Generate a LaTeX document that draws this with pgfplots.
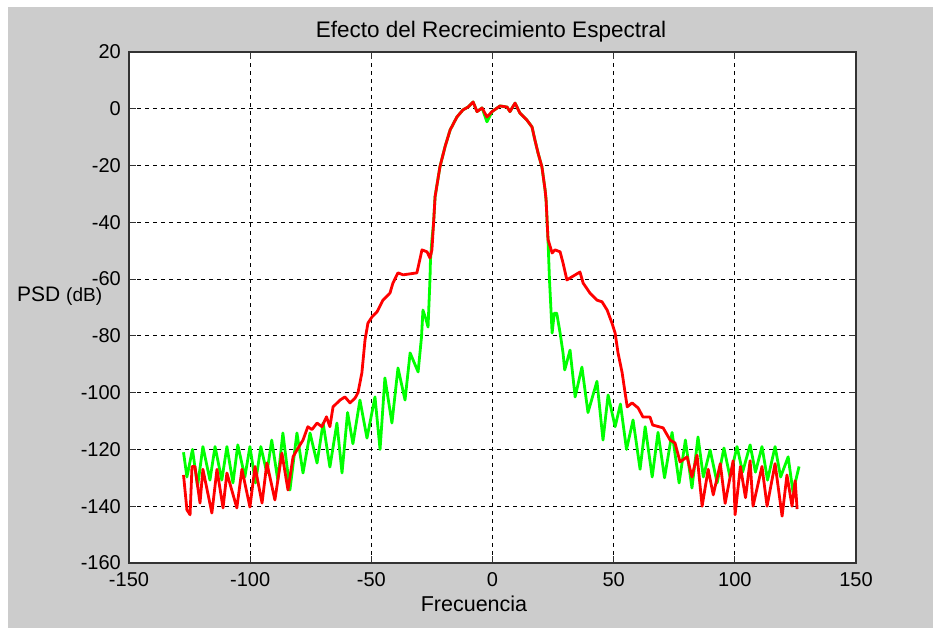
\documentclass[border=0pt]{standalone}
\usepackage{fontspec}
\setmainfont{Liberation Sans}
\usepackage{pgfplots}
\pgfplotsset{compat=1.18}
\definecolor{figgray}{RGB}{204,204,204}
\definecolor{mred}{RGB}{255,0,0}
\definecolor{mgreen}{RGB}{0,255,0}
\begin{document}
\begin{tikzpicture}
\path[use as bounding box] (0,0) rectangle (933pt,628pt);
\fill[white] (0,0) rectangle (933pt,628pt);
\fill[figgray] (8pt,0) rectangle (933pt,621pt);
\begin{axis}[
  at={(129pt,65pt)}, anchor=south west,
  scale only axis, width=727pt, height=511pt,
  xmin=-150, xmax=150, ymin=-160, ymax=20,
  xtick={-150,-100,-50,0,50,100,150},
  ytick={-160,-140,-120,-100,-80,-60,-40,-20,0,20},
  axis background/.style={fill=white},
  axis line style={black!80, line width=1.4pt},
  tick align=inside, major tick length=7pt,
  tick style={black!80, line width=1pt},
  grid=major,
  major grid style={black, line width=1.2pt, dash pattern=on 4pt off 4pt},
  /pgf/number format/assume math mode=true,
  ticklabel style={font=\fontsize{20}{24}\selectfont, inner sep=0pt},
  yticklabel style={xshift=-8pt},
  xticklabel style={yshift=-9pt},
]
\addplot[mgreen, line width=2.8pt, line join=round] table {
-127.5 -121
-126.1 -129.7
-123.8 -120
-121.7 -133
-119.5 -119
-116.6 -130.8
-114.5 -119
-111.7 -130.8
-109.6 -119
-107.1 -131.8
-105.1 -118.4
-102.2 -129.7
-100.1 -119
-97.8 -131.8
-95.6 -119
-93.1 -128.3
-91.1 -116.7
-88.6 -130.8
-86.5 -114.2
-83.6 -134.3
-80.7 -114.2
-78.2 -128.3
-75.3 -114.2
-72.4 -124.8
-69.9 -110.7
-67.1 -126.2
-64.2 -110.7
-62.1 -128.3
-59.8 -107
-57.6 -118
-54.7 -102.6
-51.8 -116
-48.5 -101.5
-46.4 -120
-44.4 -94.8
-41.5 -110.7
-39.0 -91.3
-36.1 -102.6
-34.0 -86
-30.7 -92.7
-29.3 -80.4
-28.7 -70.9
-27.5 -74
-26.6 -76.9
-25.8 -60
-25.6 -53.3
-25.0 -46.2
-24.3 -40
-23.7 -31
-21.7 -20.5
-19.6 -13.4
-17.5 -7.5
-14.7 -2.9
-12.2 -0.4
-10.1 0.6
-8.0 2.4
-6.4 -1
-4.3 0.3
-2.3 -4.6
-0.2 -1
3.1 1
6.0 0.6
7.2 -1
9.3 2
11.3 -1.5
14.2 -4
16.3 -6.4
17.5 -11
18.8 -15.6
20.4 -20.5
21.7 -28.6
22.1 -32
22.9 -46
23.5 -60
24.6 -79
25.5 -72
26.5 -72
27.9 -79
29.1 -86
29.8 -92
32.0 -85
34.1 -101.5
36.9 -91
39.4 -107
43.1 -96
45.6 -116.7
47.7 -100.8
50.6 -112
52.8 -104
55.3 -120
58.0 -109.6
60.9 -127
63.0 -112
65.9 -129.7
68.3 -114
71.0 -130
74.1 -114
77.0 -131.8
79.6 -116.7
82.3 -133.6
84.8 -115.6
87.0 -129.7
89.8 -120.2
92.7 -131.8
95.5 -119.5
98.0 -129.7
100.9 -119
103.2 -128
106.3 -118.4
108.5 -128
111.2 -119
113.5 -130.8
116.6 -119
118.9 -129.7
122.0 -122.6
124.0 -135
126.5 -126
};
\addplot[mred, line width=2.8pt, line join=round] table {
-127.5 -129
-126.1 -141.3
-124.8 -143
-124.0 -126
-122.8 -126
-120.7 -138.9
-119.5 -127
-115.8 -142.4
-113.7 -127
-111.2 -140.6
-109.6 -128.3
-105.5 -140.6
-103.4 -127
-100.1 -140.3
-98.0 -126
-95.1 -138.9
-93.1 -124.8
-89.8 -137.8
-86.9 -121.3
-84.4 -134.3
-82.3 -122.6
-80.7 -120.2
-78.2 -116.7
-76.2 -112
-74.5 -113
-72.4 -110.7
-70.4 -112
-68.5 -108.5
-67.1 -112
-65.8 -105
-62.9 -102.6
-60.9 -101.5
-58.8 -103.6
-56.7 -101.9
-55.5 -100
-53.9 -93
-52.6 -81.4
-51.4 -75.5
-49.7 -73.3
-47.7 -71.6
-45.2 -67.4
-42.3 -64.9
-41.1 -61.4
-39.0 -57.8
-36.9 -58.5
-31.2 -57.8
-29.1 -49.7
-27.0 -50.4
-25.8 -52.6
-25.0 -49.7
-24.3 -40
-23.7 -31
-21.7 -20.5
-19.6 -13.4
-17.5 -7.5
-14.7 -2.9
-12.2 -0.4
-10.1 0.6
-8.0 2.4
-6.4 -1
-4.3 0.3
-2.3 -2.9
-0.2 -1
3.1 1
6.0 0.6
7.2 -1
9.3 2
11.3 -1.5
14.2 -4
16.3 -6.4
17.5 -11
18.8 -15.6
20.4 -20.5
21.7 -28.6
22.1 -32
22.9 -46
24.6 -50.8
25.8 -49.7
27.9 -50.4
29.1 -54.3
30.7 -60.3
32.0 -59.6
36.1 -57.5
37.4 -61.4
40.2 -64.9
43.1 -67.4
45.2 -68
47.3 -70.9
49.3 -75.5
50.6 -79
51.8 -86
53.5 -93
54.7 -100
55.6 -105
57.6 -103.6
60.1 -105.4
62.1 -108.6
65.0 -108.6
66.1 -111.4
70.4 -112.4
73.3 -116.7
75.3 -117.7
77.4 -124.4
80.3 -122.6
82.3 -129.7
84.4 -122
86.5 -140
89.0 -127
91.1 -136
94.0 -125
96.0 -139
99.3 -124
100.1 -143
102.3 -126
104.4 -137
106.3 -124
107.5 -140
111.2 -126
113.3 -140
116.6 -125
119.5 -143.5
121.5 -129
123.6 -140
124.9 -131
125.7 -141
};
\end{axis}
\node[anchor=base, inner sep=0pt, font=\fontsize{22.5}{26}\selectfont] at (491pt,590pt) {Efecto del Recrecimiento Espectral};
\node[anchor=base, inner sep=0pt, font=\fontsize{21.5}{25}\selectfont] at (474pt,16pt) {Frecuencia};
\node[anchor=base west, inner sep=0pt] at (17pt,326pt) {\fontsize{21}{25}\selectfont PSD \fontsize{19}{23}\selectfont(dB)};
\end{tikzpicture}
\end{document}
